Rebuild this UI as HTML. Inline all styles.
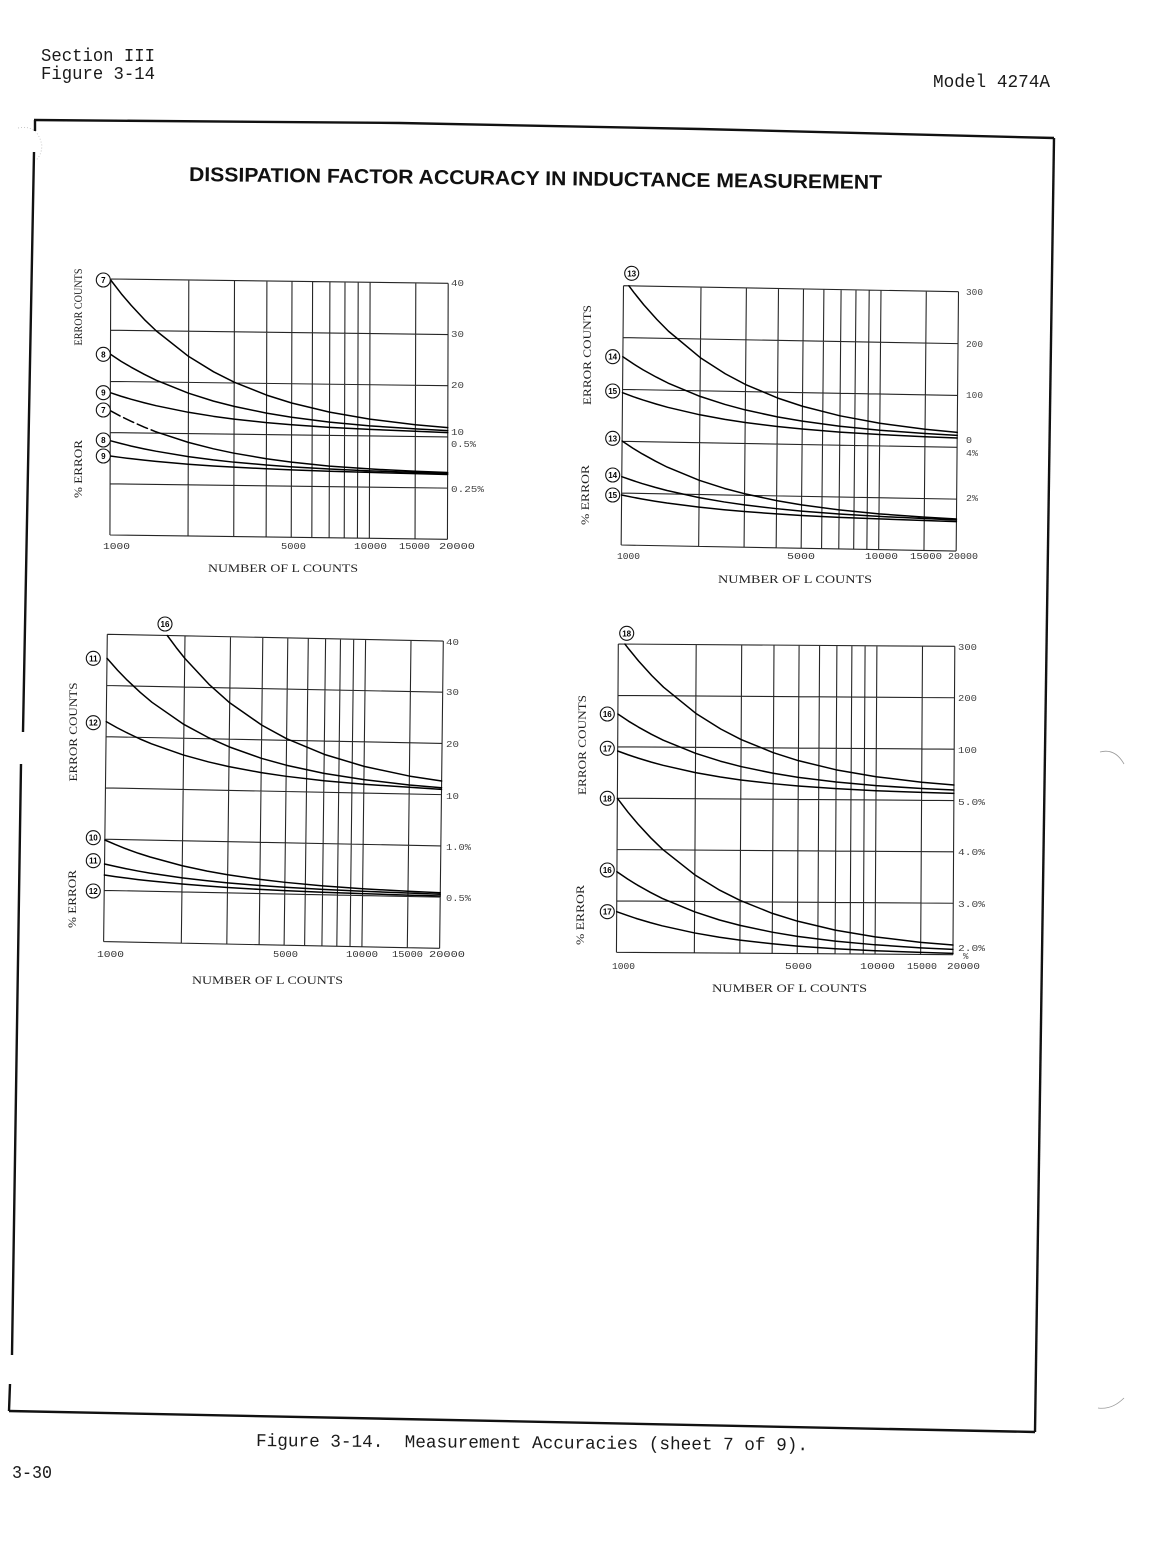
<!DOCTYPE html>
<html>
<head>
<meta charset="utf-8">
<style>
html,body{margin:0;padding:0;background:#fff;}
svg{display:block;}
.grid{fill:none;stroke:#262626;stroke-width:1.1;}
.crv{fill:none;stroke:#000;stroke-width:1.5;stroke-linejoin:round;stroke-linecap:round;}
.tk{font-family:"Liberation Mono",monospace;font-size:9px;fill:#333;}
.rt{font-family:"Liberation Mono",monospace;font-size:9px;fill:#444;}
.ax{font-family:"Liberation Serif",serif;font-size:12px;fill:#222;}
.cn{font-family:"Liberation Sans",sans-serif;font-size:8px;font-weight:bold;fill:#000;text-anchor:middle;}
.cc{fill:#fff;stroke:#111;stroke-width:1.1;}
.hd{font-family:"Liberation Mono",monospace;font-size:18px;fill:#1a1a1a;}
.fr{fill:none;stroke:#111;stroke-width:2.4;}
</style>
</head>
<body>
<svg width="1176" height="1544" viewBox="0 0 1176 1544" xmlns="http://www.w3.org/2000/svg">
<rect width="1176" height="1544" fill="#fff"/>

<!-- Header -->
<text class="hd" x="41" y="61" textLength="114" lengthAdjust="spacingAndGlyphs">Section III</text>
<text class="hd" x="41" y="79" textLength="114" lengthAdjust="spacingAndGlyphs">Figure 3-14</text>
<text class="hd" x="933" y="87" textLength="117" lengthAdjust="spacingAndGlyphs">Model 4274A</text>

<!-- Frame -->
<path class="fr" d="M34 120 L400 123 L700 129 L1054 138"/>
<path class="fr" d="M1054 138 L1035 1432"/>
<path class="fr" d="M9 1411 L1035 1432"/>
<path class="fr" d="M35 120 V131 M34 152 L23 732 M21 764 L12 1355 M10 1384 L9 1411"/>
<path d="M18 128 Q38 124 42 146 Q41 156 36 160" fill="none" stroke="#bbb" stroke-width="0.8" stroke-dasharray="1 2"/>
<path d="M1100 752 Q1115 748 1124 764" fill="none" stroke="#999" stroke-width="0.8"/>
<path d="M1098 1408 Q1112 1410 1124 1398" fill="none" stroke="#999" stroke-width="0.8"/>

<!-- Title -->
<text x="189" y="181" transform="rotate(0.66 189 181)" font-family="Liberation Sans, sans-serif" font-size="20" font-weight="bold" fill="#111" textLength="693" lengthAdjust="spacingAndGlyphs">DISSIPATION FACTOR ACCURACY IN INDUCTANCE MEASUREMENT</text>

<!-- ================= CHART 1 ================= -->
<g transform="matrix(1 0.0128 -0.003 1 110.7 279)">
<path class="grid" d="M0 0V256 M78.1 0V256 M123.8 0V256 M156.2 0V256 M181.3 0V256 M201.9 0V256 M219.2 0V256 M234.3 0V256 M247.5 0V256 M259.4 0V256 M305.1 0V256 M337.5 0V256 M0 0H337.5 M0 51.2H337.5 M0 102.4H337.5 M0 153.6H337.5 M0 204.8H337.5 M0 256H337.5"/>
<polyline class="crv" points="0,1 10.7,14.7 20.6,26.1 33.8,40.1 45.7,51.3 78.1,76.4 103.2,91.5 123.8,101.6 156.2,114.1 181.3,121.7 219.2,130.3 259.4,136.8 305.1,141.8 337.5,144.3"/>
<polyline class="crv" points="0,75.3 10.7,82.2 20.6,87.9 33.8,94.9 45.7,100.6 78.1,113.2 103.2,120.8 123.8,125.8 156.2,132.1 181.3,135.9 219.2,140.3 259.4,143.5 305.1,146 337.5,147.3"/>
<polyline class="crv" points="0,113.7 10.7,117.1 20.6,119.9 33.8,123.3 45.7,126.1 78.1,132.3 103.2,136 123.8,138.5 156.2,141.6 181.3,143.4 219.2,145.6 259.4,147.1 305.1,148.4 337.5,149.3"/>
<polyline class="crv" stroke-dasharray="11 4" points="0,131.7 10.7,137.3 20.6,141.9 33.8,147.6 45.7,152.2"/>
<polyline class="crv" points="45.7,152.2 78.1,162.4 103.2,168.5 123.8,172.6 156.2,177.7 181.3,180.8 219.2,184.3 259.4,186.6 305.1,188.4 337.5,189.2"/>
<polyline class="crv" points="0,161.7 10.7,164.4 20.6,166.7 33.8,169.4 45.7,171.6 78.1,176.6 103.2,179.6 123.8,181.6 156.2,184 181.3,185.5 219.2,187.2 259.4,188.5 305.1,189.5 337.5,190.2"/>
<polyline class="crv" points="0,177 10.7,178.3 20.6,179.4 33.8,180.7 45.7,181.8 78.1,184.2 103.2,185.7 123.8,186.6 156.2,187.8 181.3,188.5 219.2,189.4 259.4,190.1 305.1,190.7 337.5,191.2"/>
</g>
<g>
<circle class="cc" cx="103.3" cy="280" r="7"/><text class="cn" x="103.3" y="283">7</text>
<circle class="cc" cx="103.3" cy="354.3" r="7"/><text class="cn" x="103.3" y="357.3">8</text>
<circle class="cc" cx="103.3" cy="392.7" r="7"/><text class="cn" x="103.3" y="395.7">9</text>
<circle class="cc" cx="103.3" cy="410" r="7"/><text class="cn" x="103.3" y="413">7</text>
<circle class="cc" cx="103.3" cy="440" r="7"/><text class="cn" x="103.3" y="443">8</text>
<circle class="cc" cx="103.3" cy="456" r="7"/><text class="cn" x="103.3" y="459">9</text>
</g>
<text class="ax" transform="translate(82 307) rotate(-90)" text-anchor="middle" textLength="77" lengthAdjust="spacingAndGlyphs">ERROR COUNTS</text>
<text class="ax" transform="translate(82 469) rotate(-90)" text-anchor="middle" textLength="58" lengthAdjust="spacingAndGlyphs">% ERROR</text>
<text class="tk" x="103" y="549" textLength="27" lengthAdjust="spacingAndGlyphs">1000</text>
<text class="tk" x="281" y="549" textLength="25" lengthAdjust="spacingAndGlyphs">5000</text>
<text class="tk" x="354" y="549" textLength="33" lengthAdjust="spacingAndGlyphs">10000</text>
<text class="tk" x="399" y="549" textLength="31" lengthAdjust="spacingAndGlyphs">15000</text>
<text class="tk" x="439" y="549" textLength="36" lengthAdjust="spacingAndGlyphs">20000</text>
<text class="ax" x="208" y="572" textLength="150" lengthAdjust="spacingAndGlyphs">NUMBER OF L COUNTS</text>
<text class="rt" x="451" y="286" textLength="13" lengthAdjust="spacingAndGlyphs">40</text>
<text class="rt" x="451" y="337" textLength="13" lengthAdjust="spacingAndGlyphs">30</text>
<text class="rt" x="451" y="388" textLength="13" lengthAdjust="spacingAndGlyphs">20</text>
<text class="rt" x="451" y="435" textLength="13" lengthAdjust="spacingAndGlyphs">10</text>
<text class="rt" x="451" y="447" textLength="25" lengthAdjust="spacingAndGlyphs">0.5%</text>
<text class="rt" x="451" y="492" textLength="33" lengthAdjust="spacingAndGlyphs">0.25%</text>

<!-- ================= CHART 2 ================= -->
<g transform="matrix(1 0.018 -0.009 1 623.5 285.7)">
<path class="grid" d="M0 0V259.3 M77.5 0V259.3 M122.9 0V259.3 M155 0V259.3 M180 0V259.3 M200.4 0V259.3 M217.6 0V259.3 M232.5 0V259.3 M245.7 0V259.3 M257.5 0V259.3 M302.8 0V259.3 M335 0V259.3 M0 0H335 M0 51.9H335 M0 103.7H335 M0 155.6H335 M0 207.4H335 M0 259.3H335"/>
<polyline class="crv" points="5.4,0 10.7,6.9 20.4,18.7 33.6,33.1 45.3,44.6 77.5,70.6 102.5,86.2 122.9,96.6 155,109.5 180,117.3 217.6,126.2 257.5,132.9 302.8,138.1 335,140.7"/>
<polyline class="crv" points="0,71 10.7,78 20.4,83.8 33.6,90.8 45.3,96.5 77.5,109.3 102.5,116.9 122.9,122 155,128.4 180,132.2 217.6,136.6 257.5,139.9 302.8,142.4 335,143.7"/>
<polyline class="crv" points="0,107 10.7,110.8 20.4,113.9 33.6,117.7 45.3,120.8 77.5,127.7 102.5,131.8 122.9,134.6 155,138 180,140.1 217.6,142.5 257.5,144.2 302.8,145.6 335,146.3"/>
<polyline class="crv" points="0,155.3 10.7,162.2 20.4,167.9 33.6,174.9 45.3,180.6 77.5,193.2 102.5,200.8 122.9,205.8 155,212.1 180,215.9 217.6,220.3 257.5,223.5 302.8,226 335,227.3"/>
<polyline class="crv" points="0,191 10.7,194.5 20.4,197.5 33.6,201.1 45.3,204 77.5,210.5 102.5,214.4 122.9,217 155,220.2 180,222.2 217.6,224.4 257.5,226.1 302.8,227.4 335,228.3"/>
<polyline class="crv" points="0,209.3 10.7,211.3 20.4,212.9 33.6,214.9 45.3,216.5 77.5,220 102.5,222.2 122.9,223.6 155,225.4 180,226.5 217.6,227.7 257.5,228.6 302.8,229.3 335,229.9"/>
</g>
<g>
<circle class="cc" cx="631.7" cy="273.3" r="7"/><text class="cn" x="631.7" y="276.3">13</text>
<circle class="cc" cx="612.7" cy="356.7" r="7"/><text class="cn" x="612.7" y="359.7">14</text>
<circle class="cc" cx="612.7" cy="391" r="7"/><text class="cn" x="612.7" y="394">15</text>
<circle class="cc" cx="612.7" cy="438.3" r="7"/><text class="cn" x="612.7" y="441.3">13</text>
<circle class="cc" cx="612.7" cy="475" r="7"/><text class="cn" x="612.7" y="478">14</text>
<circle class="cc" cx="612.7" cy="495" r="7"/><text class="cn" x="612.7" y="498">15</text>
</g>
<text class="ax" font-size="13" transform="translate(591 355) rotate(-90)" text-anchor="middle" textLength="100" lengthAdjust="spacingAndGlyphs">ERROR COUNTS</text>
<text class="ax" font-size="13" transform="translate(589 495) rotate(-90)" text-anchor="middle" textLength="60" lengthAdjust="spacingAndGlyphs">% ERROR</text>
<text class="tk" x="617" y="559" textLength="23" lengthAdjust="spacingAndGlyphs">1000</text>
<text class="tk" x="787" y="559" textLength="28" lengthAdjust="spacingAndGlyphs">5000</text>
<text class="tk" x="865" y="559" textLength="33" lengthAdjust="spacingAndGlyphs">10000</text>
<text class="tk" x="910" y="559" textLength="32" lengthAdjust="spacingAndGlyphs">15000</text>
<text class="tk" x="948" y="559" textLength="30" lengthAdjust="spacingAndGlyphs">20000</text>
<text class="ax" x="718" y="583" textLength="154" lengthAdjust="spacingAndGlyphs">NUMBER OF L COUNTS</text>
<text class="rt" x="966" y="295" textLength="17" lengthAdjust="spacingAndGlyphs">300</text>
<text class="rt" x="966" y="347" textLength="17" lengthAdjust="spacingAndGlyphs">200</text>
<text class="rt" x="966" y="398" textLength="17" lengthAdjust="spacingAndGlyphs">100</text>
<text class="rt" x="966" y="443" textLength="6" lengthAdjust="spacingAndGlyphs">0</text>
<text class="rt" x="966" y="456" textLength="12" lengthAdjust="spacingAndGlyphs">4%</text>
<text class="rt" x="966" y="501" textLength="12" lengthAdjust="spacingAndGlyphs">2%</text>

<!-- ================= CHART 3 ================= -->
<g transform="matrix(1 0.02 -0.012 1 107.3 634.3)">
<path class="grid" d="M0 0V307.3 M77.7 0V307.3 M123.2 0V307.3 M155.5 0V307.3 M180.5 0V307.3 M201 0V307.3 M218.3 0V307.3 M233.2 0V307.3 M246.4 0V307.3 M258.3 0V307.3 M303.7 0V307.3 M336 0V307.3 M0 0H336 M0 51.2H336 M0 102.4H336 M0 153.6H336 M0 204.9H336 M0 256.1H336 M0 307.3H336"/>
<polyline class="crv" points="60,0 69,11.8 77.7,22.4 102.8,48.5 123.2,66 155.5,87.7 180.5,100.8 218.3,115.7 258.3,126.9 303.7,135.7 336,140"/>
<polyline class="crv" points="0,24 10.7,35.7 20.5,45.5 33.7,57.5 45.5,67.1 77.7,88.6 102.8,101.5 123.2,110.1 155.5,120.9 180.5,127.3 218.3,134.7 258.3,140.2 303.7,144.6 336,146.7"/>
<polyline class="crv" points="0,87.3 10.7,93.1 20.5,97.9 33.7,103.9 45.5,108.6 77.7,119.2 102.8,125.6 123.2,129.9 155.5,135.2 180.5,138.4 218.3,142.1 258.3,144.8 303.7,146.9 336,148.3"/>
<polyline class="crv" points="0,205.7 10.7,210.1 20.5,213.8 33.7,218.3 45.5,221.8 77.7,229.9 102.8,234.8 123.2,238 155.5,242 180.5,244.4 218.3,247.2 258.3,249.3 303.7,250.9 336,251.7"/>
<polyline class="crv" points="0,229.7 10.7,231.9 20.5,233.8 33.7,236.1 45.5,237.9 77.7,242 102.8,244.4 123.2,246.1 155.5,248.1 180.5,249.3 218.3,250.7 258.3,251.8 303.7,252.6 336,253.2"/>
<polyline class="crv" points="0,240.7 10.7,242.1 20.5,243.2 33.7,244.6 45.5,245.7 77.7,248.2 102.8,249.7 123.2,250.7 155.5,252 180.5,252.7 218.3,253.6 258.3,254.2 303.7,254.7 336,255"/>
</g>
<g>
<circle class="cc" cx="165" cy="624" r="7"/><text class="cn" x="165" y="627">16</text>
<circle class="cc" cx="93.3" cy="658.3" r="7"/><text class="cn" x="93.3" y="661.3">11</text>
<circle class="cc" cx="93.3" cy="722.7" r="7"/><text class="cn" x="93.3" y="725.7">12</text>
<circle class="cc" cx="93.3" cy="837.7" r="7"/><text class="cn" x="93.3" y="840.7">10</text>
<circle class="cc" cx="93.3" cy="860.7" r="7"/><text class="cn" x="93.3" y="863.7">11</text>
<circle class="cc" cx="93.3" cy="891" r="7"/><text class="cn" x="93.3" y="894">12</text>
</g>
<text class="ax" font-size="13" transform="translate(77 732) rotate(-90)" text-anchor="middle" textLength="99" lengthAdjust="spacingAndGlyphs">ERROR COUNTS</text>
<text class="ax" font-size="13" transform="translate(76 899) rotate(-90)" text-anchor="middle" textLength="58" lengthAdjust="spacingAndGlyphs">% ERROR</text>
<text class="tk" x="97" y="957" textLength="27" lengthAdjust="spacingAndGlyphs">1000</text>
<text class="tk" x="273" y="957" textLength="25" lengthAdjust="spacingAndGlyphs">5000</text>
<text class="tk" x="346" y="957" textLength="32" lengthAdjust="spacingAndGlyphs">10000</text>
<text class="tk" x="392" y="957" textLength="31" lengthAdjust="spacingAndGlyphs">15000</text>
<text class="tk" x="429" y="957" textLength="36" lengthAdjust="spacingAndGlyphs">20000</text>
<text class="ax" x="192" y="984" textLength="151" lengthAdjust="spacingAndGlyphs">NUMBER OF L COUNTS</text>
<text class="rt" x="446" y="645" textLength="13" lengthAdjust="spacingAndGlyphs">40</text>
<text class="rt" x="446" y="695" textLength="13" lengthAdjust="spacingAndGlyphs">30</text>
<text class="rt" x="446" y="747" textLength="13" lengthAdjust="spacingAndGlyphs">20</text>
<text class="rt" x="446" y="799" textLength="13" lengthAdjust="spacingAndGlyphs">10</text>
<text class="rt" x="446" y="850" textLength="25" lengthAdjust="spacingAndGlyphs">1.0%</text>
<text class="rt" x="446" y="901" textLength="25" lengthAdjust="spacingAndGlyphs">0.5%</text>

<!-- ================= CHART 4 ================= -->
<g transform="matrix(1 0.007 -0.006 1 618.3 644)">
<path class="grid" d="M0 0V308.3 M77.9 0V308.3 M123.4 0V308.3 M155.7 0V308.3 M180.8 0V308.3 M201.3 0V308.3 M218.6 0V308.3 M233.6 0V308.3 M246.8 0V308.3 M258.6 0V308.3 M304.2 0V308.3 M336.5 0V308.3 M0 0H336.5 M0 51.4H336.5 M0 102.8H336.5 M0 154.2H336.5 M0 205.5H336.5 M0 256.9H336.5 M0 308.3H336.5"/>
<polyline class="crv" points="6.6,0 10.7,5.2 20.5,17 33.7,31.4 45.5,42.9 77.9,68.8 102.9,84.3 123.4,94.7 155.7,107.6 180.8,115.4 218.6,124.3 258.6,130.9 304.2,136.1 336.5,138.7"/>
<polyline class="crv" points="0,70 10.7,77.1 20.5,82.9 33.7,90.1 45.5,95.9 77.9,108.8 102.9,116.5 123.4,121.7 155.7,128.2 180.8,132.1 218.6,136.5 258.6,139.8 304.2,142.4 336.5,143.7"/>
<polyline class="crv" points="0,107 10.7,110.8 20.5,114 33.7,117.9 45.5,121 77.9,128.1 102.9,132.3 123.4,135.1 155.7,138.6 180.8,140.7 218.6,143.1 258.6,144.9 304.2,146.3 336.5,147"/>
<polyline class="crv" points="0,154.3 10.7,168.1 20.5,179.6 33.7,193.7 45.5,205 77.9,230.3 102.9,245.5 123.4,255.6 155.7,268.3 180.8,275.9 218.6,284.6 258.6,291.1 304.2,296.2 336.5,298.7"/>
<polyline class="crv" points="0,227.7 10.7,234.9 20.5,240.9 33.7,248.2 45.5,254.1 77.9,267.3 102.9,275.3 123.4,280.5 155.7,287.1 180.8,291.1 218.6,295.6 258.6,299 304.2,301.7 336.5,303"/>
<polyline class="crv" points="0,267.7 10.7,271.4 20.5,274.6 33.7,278.4 45.5,281.5 77.9,288.4 102.9,292.5 123.4,295.3 155.7,298.7 180.8,300.8 218.6,303.2 258.6,304.9 304.2,306.3 336.5,307"/>
</g>
<g>
<circle class="cc" cx="626.7" cy="633.3" r="7"/><text class="cn" x="626.7" y="636.3">18</text>
<circle class="cc" cx="607.3" cy="714" r="7"/><text class="cn" x="607.3" y="717">16</text>
<circle class="cc" cx="607.3" cy="748.3" r="7"/><text class="cn" x="607.3" y="751.3">17</text>
<circle class="cc" cx="607.3" cy="798.3" r="7"/><text class="cn" x="607.3" y="801.3">18</text>
<circle class="cc" cx="607.3" cy="870" r="7"/><text class="cn" x="607.3" y="873">16</text>
<circle class="cc" cx="607.3" cy="911.7" r="7"/><text class="cn" x="607.3" y="914.7">17</text>
</g>
<text class="ax" font-size="13" transform="translate(586 745) rotate(-90)" text-anchor="middle" textLength="100" lengthAdjust="spacingAndGlyphs">ERROR COUNTS</text>
<text class="ax" font-size="13" transform="translate(584 915) rotate(-90)" text-anchor="middle" textLength="60" lengthAdjust="spacingAndGlyphs">% ERROR</text>
<text class="tk" x="612" y="969" textLength="23" lengthAdjust="spacingAndGlyphs">1000</text>
<text class="tk" x="785" y="969" textLength="27" lengthAdjust="spacingAndGlyphs">5000</text>
<text class="tk" x="860" y="969" textLength="35" lengthAdjust="spacingAndGlyphs">10000</text>
<text class="tk" x="907" y="969" textLength="30" lengthAdjust="spacingAndGlyphs">15000</text>
<text class="tk" x="947" y="969" textLength="33" lengthAdjust="spacingAndGlyphs">20000</text>
<text class="ax" x="712" y="992" textLength="155" lengthAdjust="spacingAndGlyphs">NUMBER OF L COUNTS</text>
<text class="rt" x="958" y="650" textLength="19" lengthAdjust="spacingAndGlyphs">300</text>
<text class="rt" x="958" y="701" textLength="19" lengthAdjust="spacingAndGlyphs">200</text>
<text class="rt" x="958" y="753" textLength="19" lengthAdjust="spacingAndGlyphs">100</text>
<text class="rt" x="958" y="805" textLength="27" lengthAdjust="spacingAndGlyphs">5.0%</text>
<text class="rt" x="958" y="855" textLength="27" lengthAdjust="spacingAndGlyphs">4.0%</text>
<text class="rt" x="958" y="907" textLength="27" lengthAdjust="spacingAndGlyphs">3.0%</text>
<text class="rt" x="958" y="951" textLength="27" lengthAdjust="spacingAndGlyphs">2.0%</text>
<text class="rt" x="963" y="959" font-size="6">%</text>

<!-- Caption -->
<text class="hd" x="256" y="1446" transform="rotate(0.45 256 1446)" textLength="552" lengthAdjust="spacingAndGlyphs" xml:space="preserve">Figure 3-14.  Measurement Accuracies (sheet 7 of 9).</text>
<text class="hd" x="12" y="1478" textLength="40" lengthAdjust="spacingAndGlyphs">3-30</text>
</svg>
</body>
</html>
